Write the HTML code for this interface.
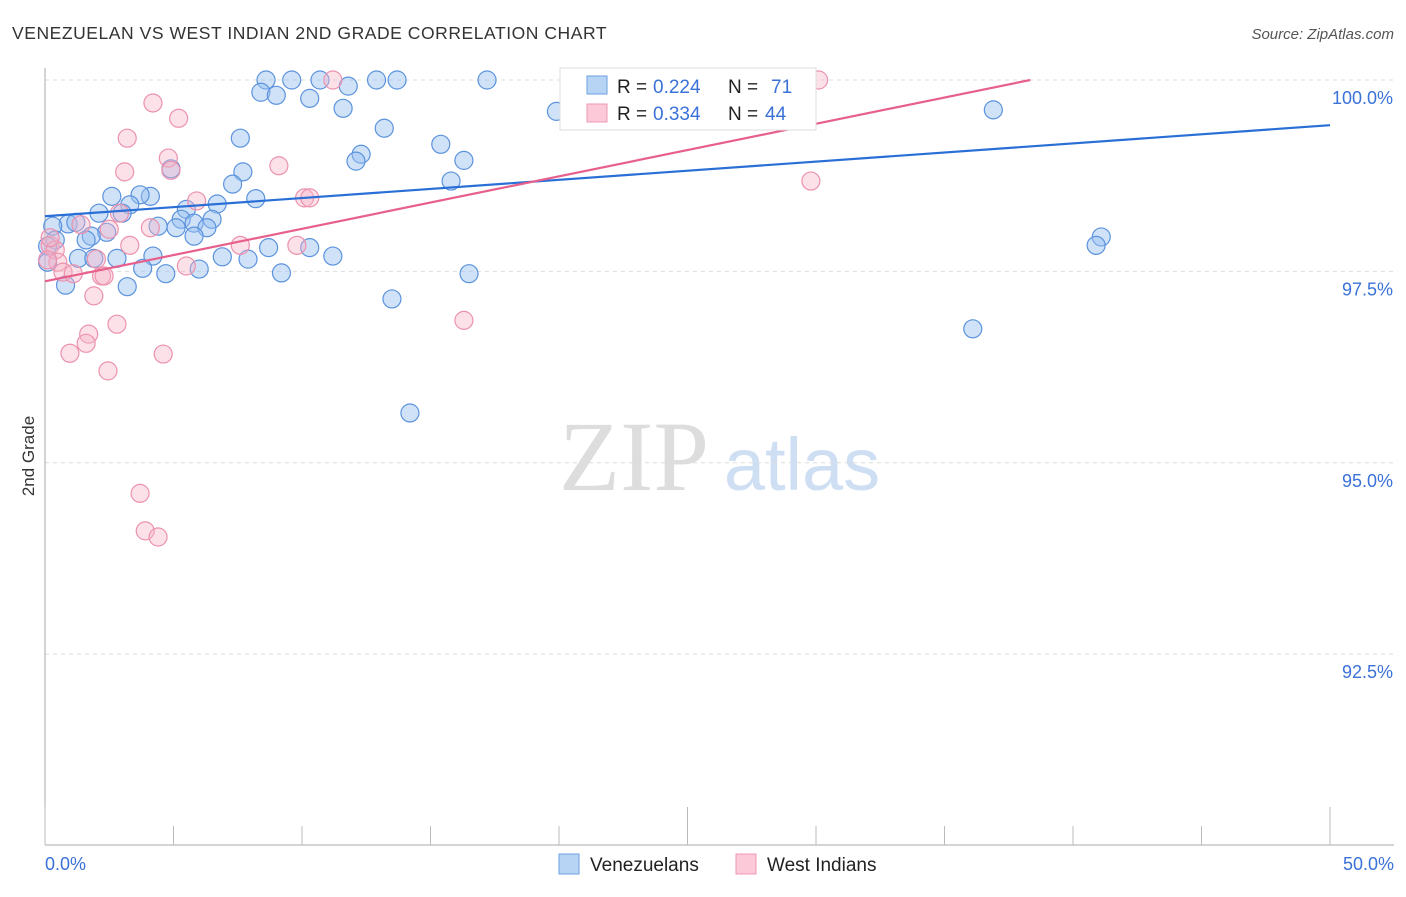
<!DOCTYPE html>
<html><head><meta charset="utf-8"><style>
body{margin:0;background:#fff;font-family:"Liberation Sans",sans-serif;}
</style></head><body>
<svg id="c" width="1406" height="892" xmlns="http://www.w3.org/2000/svg">
<text x="12" y="39" font-size="17.5" fill="#333" letter-spacing="0.55">VENEZUELAN VS WEST INDIAN 2ND GRADE CORRELATION CHART</text>
<text x="1394" y="39" font-size="15" fill="#555" font-style="italic" text-anchor="end">Source: ZipAtlas.com</text>
<text transform="translate(34,456) rotate(-90)" font-size="17" fill="#333" text-anchor="middle">2nd Grade</text>
<g><text x="634" y="490" font-size="100" fill="#ddd" font-family="Liberation Serif,serif" text-anchor="middle">ZIP</text><text x="802" y="490" font-size="74" fill="#cfdff3" text-anchor="middle">atlas</text></g>
<g id="grid"></g><g id="axes"></g><g id="pts"></g><g id="lines"></g>
<g>
<rect x="560" y="68" width="256" height="62" fill="#fff" stroke="#ddd"/>
<rect x="587" y="76" width="20" height="18" fill="#b8d4f5" stroke="#6b9fe0"/>
<text x="617" y="93" font-size="19" fill="#222">R =</text><text x="653" y="93" font-size="19" fill="#3a72d8">0.224</text>
<text x="728" y="93" font-size="19" fill="#222">N =</text><text x="771" y="93" font-size="19" fill="#3a72d8">71</text>
<rect x="587" y="104" width="20" height="18" fill="#fbc9d8" stroke="#ee98b2"/>
<text x="617" y="120" font-size="19" fill="#222">R =</text><text x="653" y="120" font-size="19" fill="#3a72d8">0.334</text>
<text x="728" y="120" font-size="19" fill="#222">N =</text><text x="765" y="120" font-size="19" fill="#3a72d8">44</text>
</g>
<g>
<rect x="559" y="854" width="20" height="20" fill="#b8d4f5" stroke="#6b9fe0"/>
<text x="590" y="871" font-size="19" fill="#222">Venezuelans</text>
<rect x="736" y="854" width="20" height="20" fill="#fbc9d8" stroke="#ee98b2"/>
<text x="767" y="871" font-size="19" fill="#222">West Indians</text>
</g>
</svg>
<script>
const yTicks=[100,97.5,95,92.5];
const yTickLabels=["100.0%","97.5%","95.0%","92.5%"];
const xTickLabels=["0.0%","50.0%"];
const blueX=[8.6,9.6,10.7,12.9,13.7,17.2,8.4,9.0,10.3,11.8,11.6,19.9,36.9,13.2,15.4,7.6,12.3,12.1,16.3,7.7,4.9,15.8,7.3,2.6,4.1,3.7,8.2,6.7,3.3,5.5,2.1,3.0,6.5,5.3,4.4,5.8,5.1,6.3,0.9,1.2,0.3,2.4,1.8,5.8,1.6,0.4,41.1,40.9,8.7,10.3,0.1,1.3,1.9,2.8,4.2,6.9,7.9,11.2,3.8,6.0,4.7,9.2,16.5,0.1,0.8,3.2,13.5,36.1,14.2];
const blueY=[100,100,100,100,100,100,99.84,99.80,99.76,99.92,99.63,99.59,99.61,99.37,99.16,99.24,99.03,98.94,98.95,98.80,98.84,98.68,98.64,98.48,98.48,98.50,98.45,98.38,98.37,98.31,98.26,98.26,98.18,98.18,98.09,98.13,98.07,98.07,98.12,98.14,98.09,98.01,97.96,97.96,97.91,97.91,97.95,97.84,97.81,97.81,97.83,97.67,97.67,97.67,97.70,97.69,97.66,97.70,97.54,97.53,97.47,97.48,97.47,97.62,97.32,97.30,97.14,96.75,95.65];
const pinkX=[30.1,11.2,4.2,5.2,3.2,4.8,3.1,4.9,9.1,5.9,10.1,10.3,29.8,2.9,1.4,2.5,4.1,3.3,7.6,9.8,0.2,0.4,0.5,5.5,2.0,0.7,1.1,2.2,2.3,1.9,2.8,16.3,1.7,1.6,0.97,4.6,2.45,3.7,3.9,4.4,0.2,0.1];
const pinkY=[100,100,99.70,99.50,99.24,98.98,98.80,98.82,98.88,98.42,98.46,98.46,98.68,98.26,98.11,98.05,98.07,97.84,97.84,97.84,97.84,97.78,97.62,97.57,97.66,97.49,97.47,97.44,97.44,97.18,96.81,96.86,96.68,96.56,96.43,96.42,96.20,94.60,94.11,94.03,97.94,97.65];
const trendBlue=[98.22,0.0238];
const trendPink=[97.37,0.0686];
const X=v=>45+v/50*1285, Y=v=>80+(100-v)*76.55;
const NS="http://www.w3.org/2000/svg";
function mk(t,a,p){const e=document.createElementNS(NS,t);for(const k in a)e.setAttribute(k,a[k]);document.getElementById(p).appendChild(e);return e;}
yTicks.forEach((t,i)=>{
 const g=mk('line',{x1:45,x2:1394,y1:Y(t),y2:Y(t),stroke:'#ddd','stroke-dasharray':'4,4'},'grid');
 
 
 const l=mk('text',{x:1393,y:Y(t)+24,'font-size':18,fill:'#3a72d8','text-anchor':'end'},'axes');
 l.textContent=yTickLabels[i];
 
 
});
mk('line',{x1:45,x2:45,y1:68,y2:845,stroke:'#aaa'},'axes');
const xa=mk('line',{x1:45,x2:1394,y1:845,y2:845,stroke:'#aaa'},'axes');


for(let i=0;i<=10;i++){const x=X(i*5);mk('line',{x1:x,x2:x,y1:(i%5==0)?807:826,y2:845,stroke:'#bbb'},'axes');}
const xl0=mk('text',{x:45,y:870,'font-size':18,fill:'#3a72d8'},'axes');xl0.textContent=xTickLabels[0];


const xl1=mk('text',{x:1394,y:870,'font-size':18,fill:'#3a72d8','text-anchor':'end'},'axes');xl1.textContent=xTickLabels[1];


blueX.forEach((v,i)=>{const c=mk('circle',{cx:X(v),cy:Y(blueY[i]),r:9,fill:'rgba(150,190,240,0.45)',stroke:'#5b93dd','stroke-width':1.2},'pts');
 
 });
pinkX.forEach((v,i)=>{const c=mk('circle',{cx:X(v),cy:Y(pinkY[i]),r:9,fill:'rgba(248,180,200,0.4)',stroke:'#ec92ae','stroke-width':1.2},'pts');
 
 });
const bl=mk('line',{x1:X(0),y1:Y(trendBlue[0]),x2:X(50),y2:Y(trendBlue[0]+50*trendBlue[1]),stroke:'#2a6fd6','stroke-width':2.2},'lines');


const xe=(100-trendPink[0])/trendPink[1];
const pl=mk('line',{x1:X(0),y1:Y(trendPink[0]),x2:X(xe),y2:Y(100),stroke:'#e7608c','stroke-width':2.2},'lines');


</script>
</body></html>
